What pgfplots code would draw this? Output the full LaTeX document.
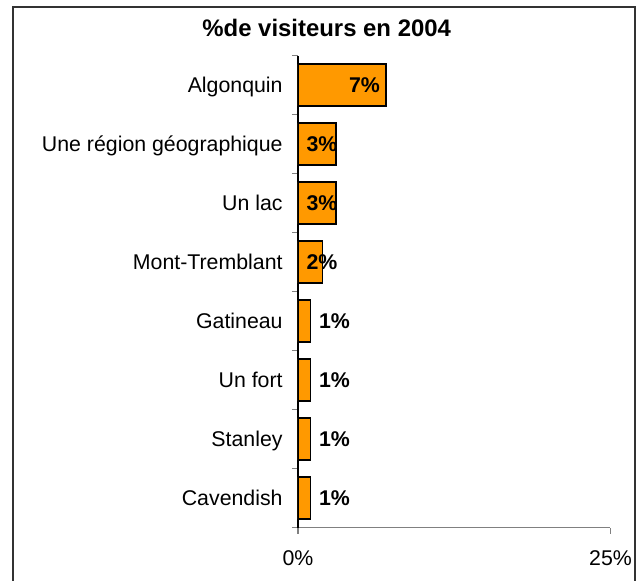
\documentclass[border=0pt]{standalone}
\usepackage{pgfplots}
\pgfplotsset{compat=1.18}
\usepackage{fontspec}
\setmainfont{Liberation Sans}
\definecolor{barorange}{HTML}{FF9900}
\definecolor{framegray}{HTML}{333333}
\begin{document}
\begin{tikzpicture}[x=1bp,y=1bp]
% page = 637x581 px at 0.5bp per px, axis origin at px (298,527.5)
\path[use as bounding box] (-149,-26.75) rectangle (169.5,263.75);
\draw[framegray, line width=1bp] (-142.5,-26.75) -- (-142.5,260) -- (168.5,260) -- (168.5,-26.75);
\begin{axis}[
  at={(0,0)}, anchor=south west,
  scale only axis, width=156.25bp, height=236bp,
  xmin=0, xmax=25, ymin=-0.5, ymax=7.5,
  axis x line=bottom, axis y line=left,
  x axis line style={gray, line width=0.6bp, -},
  y axis line style={black, line width=0.7bp, -},
  xtick={0,25}, xticklabels={0\%,25\%},
  ytick={-0.5,0.5,...,7.5}, y tick label as interval,
  yticklabels={Cavendish,Stanley,Un fort,Gatineau,Mont-Tremblant,Un lac,Une région géographique,Algonquin},
  tick align=outside, major tick length=3bp,
  tick style={color=gray, line width=0.6bp},
  /pgf/number format/assume math mode=true,
  tick label style={font=\fontsize{10.7}{12.8}\selectfont, inner sep=0pt},
  yticklabel style={anchor=base east, xshift=-4.5bp, yshift=-3.83bp},
  xticklabel style={anchor=base, yshift=-16.2bp},
]
\addplot[xbar, bar width=21bp, fill=barorange, draw=black, line width=0.75bp]
  coordinates {(1.0,0) (1.0,1) (1.0,2) (1.0,3) (1.95,4) (3.05,5) (3.05,6) (7.05,7)};
\addplot[draw=none, mark=none, point meta=explicit symbolic, nodes near coords,
  nodes near coords style={anchor=base, yshift=-3.83bp, text=black, inner sep=0pt,
    font=\bfseries\fontsize{10.7}{12.8}\selectfont}]
  coordinates {(2.92,0) [1\%] (2.92,1) [1\%] (2.92,2) [1\%] (2.92,3) [1\%]
               (1.92,4) [2\%] (1.92,5) [3\%] (1.92,6) [3\%] (5.32,7) [7\%]};
\end{axis}
\node[anchor=base, font=\bfseries\fontsize{12}{14.4}\selectfont] at (14.35,245.4) {\%de visiteurs en 2004};
\end{tikzpicture}
\end{document}
